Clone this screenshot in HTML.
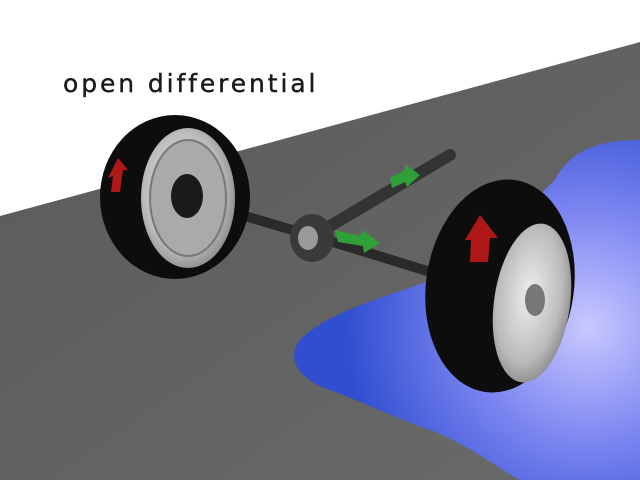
<!DOCTYPE html>
<html><head><style>
html,body{margin:0;padding:0;background:#fff;}
svg{display:block;}
</style></head><body>
<svg width="640" height="480" viewBox="0 0 640 480" xmlns="http://www.w3.org/2000/svg">
<defs>
<linearGradient id="road" x1="0" y1="0" x2="1" y2="1">
<stop offset="0" stop-color="#5a5a5a"/><stop offset="1" stop-color="#6a6a6a"/>
</linearGradient>
<radialGradient id="blue" cx="0.85" cy="0.55" r="0.7">
<stop offset="0" stop-color="#c8c8ff"/><stop offset="0.5" stop-color="#7a84f0"/><stop offset="1" stop-color="#2f4fd0"/>
</radialGradient>
<radialGradient id="rim" cx="0.45" cy="0.45" r="0.6">
<stop offset="0" stop-color="#eee"/><stop offset="0.7" stop-color="#bbb"/><stop offset="1" stop-color="#888"/>
</radialGradient>
</defs>
<rect width="640" height="480" fill="#fff"/>
<polygon points="0,216 640,42 640,480 0,480" fill="url(#road)"/>
<path d="M640,140 C600,140 570,150 555,180 L470,260 C430,290 340,300 300,340 C285,360 300,380 330,390 C370,405 400,420 430,430 C470,445 500,470 520,480 L640,480 Z" fill="url(#blue)"/>
<text x="63" y="92" font-family="'DejaVu Sans','Liberation Sans',sans-serif" font-size="25" font-weight="500" letter-spacing="2.9" fill="#1a1a1a" stroke="#1a1a1a" stroke-width="0.4">open differential</text>
<line x1="320" y1="232" x2="450" y2="155" stroke="#333" stroke-width="12" stroke-linecap="round"/>
<line x1="190" y1="200" x2="320" y2="238" stroke="#2a2a2a" stroke-width="10"/>
<line x1="320" y1="238" x2="450" y2="278" stroke="#2a2a2a" stroke-width="10"/>
<ellipse cx="312" cy="238" rx="22" ry="24" fill="#3a3a3a"/>
<ellipse cx="308" cy="238" rx="10" ry="12" fill="#999"/>
<polygon points="390,178 405,170 405,164 420,175 407,187 405,182 392,188" fill="#2fa038"/>
<polygon points="335,230 360,236 362,230 380,243 364,253 363,246 338,242" fill="#2fa038"/>
<ellipse cx="175" cy="197" rx="75" ry="82" fill="#0d0d0d"/>
<ellipse cx="188" cy="198" rx="47" ry="70" fill="url(#rim)"/>
<ellipse cx="188" cy="198" rx="38" ry="58" fill="#aaa" stroke="#777" stroke-width="2"/>
<ellipse cx="187" cy="196" rx="16" ry="22" fill="#1a1a1a"/>
<polygon points="108,178 118,158 128,170 123,170 120,192 111,192 113,176" fill="#b01818"/>
<ellipse cx="500" cy="286" rx="74" ry="107" transform="rotate(8 500 286)" fill="#0d0d0d"/>
<ellipse cx="532" cy="303" rx="38" ry="80" transform="rotate(8 532 303)" fill="url(#rim)"/>
<ellipse cx="535" cy="300" rx="10" ry="16" fill="#777"/>
<polygon points="465,240 480,215 498,238 490,238 488,262 470,262 471,240" fill="#b01818"/>
</svg>
</body></html>
